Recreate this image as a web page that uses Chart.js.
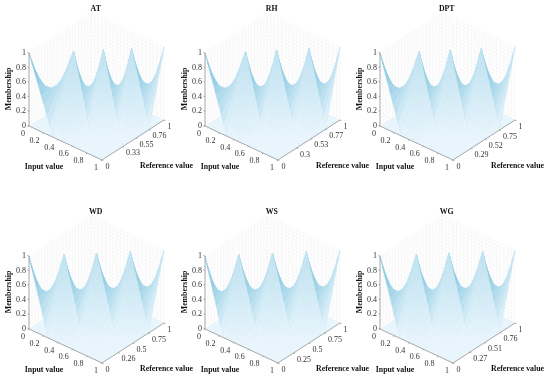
<!DOCTYPE html>
<html>
<head>
<meta charset="utf-8">
<title>Membership surfaces</title>
<script src="https://cdn.jsdelivr.net/npm/chart.js@4"></script>
<style>
    html, body { margin: 0; padding: 0; background: #fff; width: 550px; height: 380px; overflow: hidden; }
    canvas { position: absolute; filter: blur(0.35px); }
</style>
</head>
<body>
<script>
// Panel names and the reference values printed on each axis
const panelNames = ['AT', 'RH', 'DPT', 'WD', 'WS', 'WG'];
const refAT = [0, 0.33, 0.55, 0.76, 1];
const refRH = [0, 0.3, 0.53, 0.77, 1];
const refDPT = [0, 0.29, 0.52, 0.75, 1];
const refWD = [0, 0.26, 0.5, 0.75, 1];
const refWS = [0, 0.25, 0.5, 0.75, 1];
const refWG = [0, 0.27, 0.51, 0.76, 1];
const panelRefs = [refAT, refRH, refDPT, refWD, refWS, refWG];

const inputTicks = [0, 0.2, 0.4, 0.6, 0.8, 1];
const membershipTicks = [0, 0.2, 0.4, 0.6, 0.8, 1];
const wallGrid = [0, 0.05, 0.1, 0.15, 0.2, 0.25, 0.3, 0.35, 0.4, 0.45, 0.5, 0.55, 0.6, 0.65, 0.7, 0.75, 0.8, 0.85, 0.9, 0.95, 1];

// Cell position steps, shared by the two height tables
const cellSteps = [0, 0.125, 0.25, 0.375, 0.5, 0.625, 0.75, 0.875, 1];

// Membership inside a cell on the diagonal: a peak at each end, dip to 0.5 in the middle
const ridgeCell = [
    [1, 0.88, 0.75, 0.63, 0.5, 0.38, 0.25, 0.13, 0],
    [0.88, 0.78, 0.69, 0.59, 0.5, 0.41, 0.31, 0.22, 0.13],
    [0.75, 0.69, 0.63, 0.56, 0.5, 0.44, 0.38, 0.31, 0.25],
    [0.63, 0.59, 0.56, 0.53, 0.5, 0.47, 0.44, 0.41, 0.38],
    [0.5, 0.5, 0.5, 0.5, 0.5, 0.5, 0.5, 0.5, 0.5],
    [0.38, 0.41, 0.44, 0.47, 0.5, 0.53, 0.56, 0.59, 0.63],
    [0.25, 0.31, 0.38, 0.44, 0.5, 0.56, 0.63, 0.69, 0.75],
    [0.13, 0.22, 0.31, 0.41, 0.5, 0.59, 0.69, 0.78, 0.88],
    [0, 0.13, 0.25, 0.38, 0.5, 0.63, 0.75, 0.88, 1]
];

// Membership inside a cell next to the diagonal: falls from one peak to the floor
const flankCell = [
    [0, 0, 0, 0, 0, 0, 0, 0, 0],
    [0.13, 0.11, 0.09, 0.08, 0.06, 0.05, 0.03, 0.02, 0],
    [0.25, 0.22, 0.19, 0.16, 0.13, 0.09, 0.06, 0.03, 0],
    [0.38, 0.33, 0.28, 0.23, 0.19, 0.14, 0.09, 0.05, 0],
    [0.5, 0.44, 0.38, 0.31, 0.25, 0.19, 0.13, 0.06, 0],
    [0.63, 0.55, 0.47, 0.39, 0.31, 0.23, 0.16, 0.08, 0],
    [0.75, 0.66, 0.56, 0.47, 0.38, 0.28, 0.19, 0.09, 0],
    [0.88, 0.77, 0.66, 0.55, 0.44, 0.33, 0.22, 0.11, 0],
    [1, 0.88, 0.75, 0.63, 0.5, 0.38, 0.25, 0.13, 0]
];

const PANEL_W = 195, PANEL_H = 176;
const ORIGIN_X = 29, ORIGIN_Y = 126;
const SERIF = '"Liberation Serif", serif';

// Oblique view: input value runs down right, reference value up right, membership straight up
function project(input, ref, member) {
    return {
        x: ORIGIN_X + 73 * input + 62 * ref,
        y: ORIGIN_Y + 34 * input - 40 * ref - 73 * member
    };
}

function mix(amount) {
    const d = Math.max(0, Math.min(1, amount));
    const r = Math.round(233 - d * (233 - 112));
    const g = Math.round(245 - d * (245 - 190));
    const b = Math.round(252 - d * (252 - 219));
    return `rgb(${r},${g},${b})`;
}

function flankShade(z) {
    return mix(0.35 * Math.pow(z, 0.8));
}

// Colour of a diagonal cell: dark beside the falling peak's edge, fading towards the rising peak
function ridgeShade(u, v, z) {
    if (v > u) return flankShade(z);
    const fromPeak = 1 - u, toFloor = u - v;
    const share = fromPeak + v > 0 ? fromPeak / (fromPeak + v) : 0;
    return mix(0.85 * Math.pow(share, 1.2) * (1 - Math.pow(toFloor, 1.6)) + 0.35 * Math.pow(v, 0.8) * (1 - share));
}

// One closed, filled facet of the surface
function facet(corners, color, depth) {
    return {
        depth: depth,
        data: corners.concat([corners[0]]),
        showLine: true,
        fill: 'shape',
        backgroundColor: color,
        borderColor: color,
        borderWidth: 0.6,
        pointRadius: 0
    };
}

function cellFacets(refs, i, j) {
    const facets = [];
    if (Math.abs(i - j) > 1) return facets;
    const x0 = refs[i], x1 = refs[i + 1], r0 = refs[j], r1 = refs[j + 1];
    const height = (a, b) => {
        if (i === j) return ridgeCell[b][a];
        if (i > j) return flankCell[b][a];
        return flankCell[a][b];
    };
    for (let a = 0; a < cellSteps.length - 1; a++) {
        for (let b = 0; b < cellSteps.length - 1; b++) {
            const corner = (ca, cb) => project(
                x0 + (x1 - x0) * cellSteps[ca],
                r0 + (r1 - r0) * cellSteps[cb],
                height(ca, cb)
            );
            const midU = (cellSteps[a] + cellSteps[a + 1]) / 2;
            const midV = (cellSteps[b] + cellSteps[b + 1]) / 2;
            const midZ = (height(a, b) + height(a + 1, b) + height(a, b + 1) + height(a + 1, b + 1)) / 4;
            const color = i === j ? ridgeShade(midU, midV, midZ) : flankShade(midZ);
            const depth = (x0 + (x1 - x0) * midU) - (r0 + (r1 - r0) * midV);
            facets.push(facet([corner(a, b), corner(a + 1, b), corner(a + 1, b + 1), corner(a, b + 1)], color, depth));
        }
    }
    return facets;
}

// Path of separate segments, broken by NaN points
function segments(list) {
    const points = [];
    list.forEach(seg => {
        points.push(seg[0], seg[1], { x: NaN, y: NaN });
    });
    return points;
}

function lineSet(points, color, width, dash) {
    return {
        data: points,
        showLine: true,
        fill: false,
        spanGaps: false,
        borderColor: color,
        borderWidth: width,
        borderDash: dash || [],
        pointRadius: 0
    };
}

function buildDatasets(refs) {
    // Back walls
    const wallLines = [];
    wallGrid.forEach(t => {
        wallLines.push([project(0, t, 0), project(0, t, 1)]);
        wallLines.push([project(t, 1, 0), project(t, 1, 1)]);
        wallLines.push([project(0, 0, t), project(0, 1, t)]);
        wallLines.push([project(0, 1, t), project(1, 1, t)]);
    });

    // Surface, nearest facets first because Chart.js paints the first dataset last
    let facets = [];
    for (let i = 0; i < refs.length - 1; i++) {
        for (let j = 0; j < refs.length - 1; j++) {
            facets = facets.concat(cellFacets(refs, i, j));
        }
    }
    facets.sort((a, b) => b.depth - a.depth);
    const floor = facet([project(0, 0, 0), project(1, 0, 0), project(1, 1, 0), project(0, 1, 0)], mix(0), -2);

    // Axis lines and tick marks
    const axisLines = [
        [project(0, 0, 0), project(1, 0, 0)],
        [project(1, 0, 0), project(1, 1, 0)],
        [project(0, 0, 0), project(0, 0, 1)]
    ];
    inputTicks.forEach(t => axisLines.push([project(t, 0, 0), project(t, -0.02, 0)]));
    refs.forEach(t => axisLines.push([project(1, t, 0), project(1.02, t, 0)]));
    membershipTicks.forEach(t => axisLines.push([project(0, 0, t), project(-0.02, 0, t)]));

    return [lineSet(segments(axisLines), '#959595', 0.8)]
        .concat(facets, [floor, lineSet(segments(wallLines), '#f1f1f1', 0.5)]);
}

// Title, axis names and tick labels, placed through the chart's scales
function labelPlugin(name, refs) {
    return {
        id: 'panelLabels',
        afterDraw(chart) {
            const ctx = chart.ctx;
            const sx = chart.scales.x, sy = chart.scales.y;
            const put = (text, p, dx, dy, align, font, color, angle) => {
                ctx.save();
                ctx.translate(sx.getPixelForValue(p.x) + dx, sy.getPixelForValue(p.y) + dy);
                if (angle) ctx.rotate(angle);
                ctx.textAlign = align;
                ctx.textBaseline = 'middle';
                ctx.font = font;
                ctx.fillStyle = color;
                ctx.fillText(text, 0, 0);
                ctx.restore();
            };
            const tickFont = '8px ' + SERIF;
            const nameFont = 'bold 7.8px ' + SERIF;
            const origin = project(0, 0, 0);
            put(name, origin, 66.7, -117, 'center', nameFont, '#111');
            put('Membership', origin, -20, -37, 'center', nameFont, '#111', -Math.PI / 2);
            put('Input value', origin, 15, 41, 'center', nameFont, '#111');
            put('Reference value', origin, 137.5, 40, 'center', nameFont, '#111');
            membershipTicks.forEach(t => put(String(t), project(0, 0, t), -3, 0, 'right', tickFont, '#333'));
            inputTicks.forEach(t => put(String(t), project(t, 0, 0), -4, 8, 'right', tickFont, '#333'));
            refs.forEach(t => put(String(t), project(1, t, 0), 3.5, 6.5, 'left', tickFont, '#333'));
        }
    };
}

function drawPanel(index) {
    const canvas = document.createElement('canvas');
    canvas.width = PANEL_W;
    canvas.height = PANEL_H;
    canvas.style.width = PANEL_W + 'px';
    canvas.style.height = PANEL_H + 'px';
    canvas.style.left = (index % 3) * 175.5 + 'px';
    canvas.style.top = Math.floor(index / 3) * 203 + 'px';
    document.body.appendChild(canvas);

    const refs = panelRefs[index];
    new Chart(canvas, {
        type: 'scatter',
        data: { datasets: buildDatasets(refs) },
        options: {
            responsive: false,
            animation: false,
            events: [],
            layout: { padding: 0 },
            plugins: { legend: { display: false }, tooltip: { enabled: false }, title: { display: false } },
            scales: {
                x: { type: 'linear', display: false, min: 0, max: PANEL_W },
                y: { type: 'linear', display: false, reverse: true, min: 0, max: PANEL_H }
            }
        },
        plugins: [labelPlugin(panelNames[index], refs)]
    });
}

panelNames.forEach((name, i) => drawPanel(i));
</script>
</body>
</html>
